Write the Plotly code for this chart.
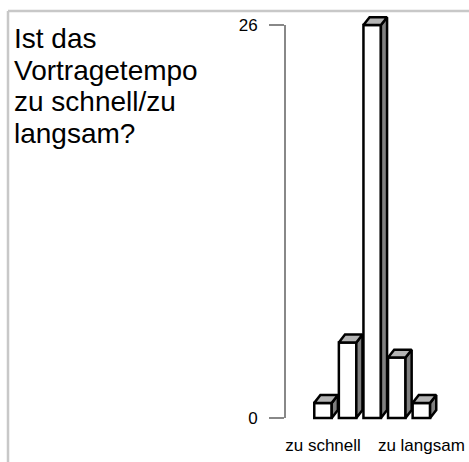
import plotly.graph_objects as go

# answers to "Ist das Vortragetempo zu schnell/zu langsam?"
positions = [0, 1, 2, 3, 4]
counts = [1, 5, 26, 4, 1]
tick_positions = [0, 4]
tick_labels = ["zu schnell", "zu langsam"]
y_ticks = [0, 26]
title_lines = ["Ist das", "Vortragetempo", "zu schnell/zu", "langsam?"]

W, H = 469, 462
ML, MR, MT, MB = 285, 10, 11, 36
x_range = [-1.545, 5.53]
y_range = [-0.53, 26.93]

bar_w = 0.71
dx = 0.25   # depth offset, x units
dy = 0.52   # depth offset, y units

plot_w = W - ML - MR
plot_h = H - MT - MB


def px_to_paper_x(px):
    return (px - ML) / plot_w


def px_to_paper_y(py):
    return (H - MB - py) / plot_h


side_x, side_y, top_x, top_y = [], [], [], []
for p, v in zip(positions, counts):
    left = p - bar_w / 2
    right = p + bar_w / 2
    side_x += [right, right + dx, right + dx, right, right, None]
    side_y += [0, dy, v + dy, v, 0, None]
    top_x += [left, left + dx, right + dx, right, left, None]
    top_y += [v, v + dy, v + dy, v, v, None]

fig = go.Figure()
fig.add_trace(go.Bar(
    x=positions, y=counts, width=bar_w,
    marker=dict(color="white", line=dict(color="black", width=2.5)),
    hoverinfo="skip"
))
fig.add_trace(go.Scatter(
    x=side_x, y=side_y, mode="lines", fill="toself",
    fillcolor="#808080", line=dict(color="black", width=2.5),
    hoverinfo="skip"
))
fig.add_trace(go.Scatter(
    x=top_x, y=top_y, mode="lines", fill="toself",
    fillcolor="#b4b4b4", line=dict(color="black", width=2.5),
    hoverinfo="skip"
))

frame_x = px_to_paper_x(8)
frame_top = px_to_paper_y(11)
shapes = [
    # value axis line, only from 0 to 26
    dict(type="line", xref="paper", yref="y", x0=0, x1=0, y0=0, y1=26,
         line=dict(color="#888888", width=2)),
    # light frame
    dict(type="line", xref="paper", yref="paper", x0=frame_x, x1=1.2,
         y0=frame_top, y1=frame_top, line=dict(color="#c8c8c8", width=2.5)),
    dict(type="line", xref="paper", yref="paper", x0=frame_x, x1=frame_x,
         y0=frame_top, y1=-0.2, line=dict(color="#c8c8c8", width=2.5)),
]

# title written line by line to keep the tight line spacing
annotations = []
for i, line in enumerate(title_lines):
    annotations.append(dict(
        text=line, xref="paper", yref="paper",
        x=px_to_paper_x(13), y=px_to_paper_y(22 + i * 31.7),
        xanchor="left", yanchor="top", align="left", showarrow=False,
        borderpad=0, font=dict(size=28, color="black")
    ))

fig.update_layout(
    width=W, height=H,
    margin=dict(l=ML, r=MR, t=MT, b=MB),
    paper_bgcolor="white", plot_bgcolor="white",
    showlegend=False,
    font=dict(family="Liberation Sans, Arial, sans-serif", color="black"),
    shapes=shapes,
    annotations=annotations,
    xaxis=dict(range=x_range, showgrid=False, zeroline=False, showline=False,
               ticks="", tickvals=tick_positions, ticktext=tick_labels,
               tickfont=dict(size=17), ticklabelstandoff=7,
               automargin=False, fixedrange=True),
    yaxis=dict(range=y_range, showgrid=False, zeroline=False, showline=False,
               ticks="outside", ticklen=15, tickwidth=2, tickcolor="#888888",
               tickvals=y_ticks, tickfont=dict(size=17),
               ticklabelstandoff=8, automargin=False, fixedrange=True),
)

fig.write_html("out.html", config={"displayModeBar": False},
               post_script="document.body.style.margin='0';")
